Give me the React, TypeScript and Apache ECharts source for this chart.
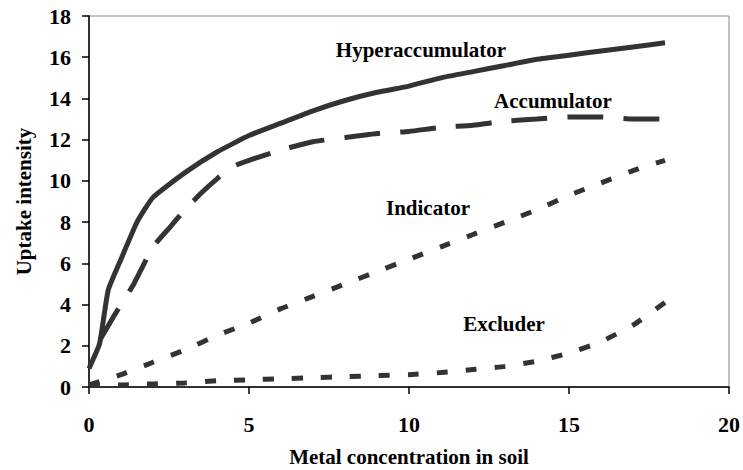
import React, { useEffect, useRef } from "react";
import * as echarts from "echarts";

const xTicks = [0, 5, 10, 15, 20];
const yTicks = [0, 2, 4, 6, 8, 10, 12, 14, 16, 18];

const hyperX = [0, 0.33, 0.6, 1, 1.5, 2, 3, 4, 5, 6, 7, 8, 9, 10, 11, 12, 13, 14, 15, 16, 17, 18];
const hyperY = [0.9, 2.1, 4.7, 6.2, 8.0, 9.2, 10.4, 11.4, 12.2, 12.8, 13.4, 13.9, 14.3, 14.6, 15.0, 15.3, 15.6, 15.9, 16.1, 16.3, 16.5, 16.7];

const accX = [0.35, 0.8, 1.4, 2, 2.5, 3, 3.5, 4, 4.5, 5, 6, 7, 8, 9, 10, 11, 12, 13, 14, 15, 16, 17, 18];
const accY = [2.3, 3.5, 5.0, 6.8, 7.7, 8.6, 9.4, 10.1, 10.7, 11.0, 11.5, 11.9, 12.1, 12.3, 12.4, 12.6, 12.7, 12.9, 13.0, 13.1, 13.1, 13.0, 13.0];

const indX = [0, 1, 2, 3, 4, 5, 6, 7, 8, 9, 10, 11, 12, 13, 14, 15, 16, 17, 18];
const indY = [0.1, 0.6, 1.2, 1.8, 2.5, 3.1, 3.8, 4.4, 5.0, 5.6, 6.2, 6.8, 7.4, 8.0, 8.6, 9.3, 9.9, 10.5, 11.0];

const excX = [0, 1, 2, 3, 4, 5, 6, 7, 8, 9, 10, 11, 12, 13, 14, 15, 16, 17, 18];
const excY = [0.1, 0.1, 0.15, 0.2, 0.3, 0.35, 0.4, 0.45, 0.5, 0.55, 0.6, 0.7, 0.85, 1.0, 1.25, 1.65, 2.2, 3.0, 4.1];

const labels = ["Hyperaccumulator", "Accumulator", "Indicator", "Excluder"];

const FONT = "'Liberation Serif', 'Times New Roman', serif";
const LINE = "#333333";

const pairs = (xs: number[], ys: number[]) => xs.map((x, i) => [x, ys[i]]);

export default function App() {
  const ref = useRef<HTMLDivElement>(null);
  useEffect(() => {
    if (!ref.current) return;
    const chart = echarts.init(ref.current, null, { renderer: "svg" });
    const textStyle = { fontFamily: FONT, fontWeight: "bold" as const, fontSize: 21, fill: "#000" };
    const mk = (name: string, xs: number[], ys: number[], type: any, width = 5) => ({
      name,
      type: "line",
      data: pairs(xs, ys),
      showSymbol: false,
      symbol: "none",
      smooth: 0.15,
      lineStyle: { color: LINE, width, type, cap: "butt" },
    });
    chart.setOption({
      animation: false,
      grid: {
        left: 89,
        right: 14,
        top: 16,
        bottom: 83,
        containLabel: false,
        outerBoundsMode: "none",
        show: true,
        borderColor: "#888",
        borderWidth: 1,
        backgroundColor: "transparent",
      },
      xAxis: {
        type: "value",
        min: 0,
        max: 20,
        interval: 5,
        name: "Metal concentration in soil",
        nameLocation: "middle",
        nameGap: 59,
        nameTextStyle: { fontFamily: FONT, fontWeight: "bold", fontSize: 21, color: "#000" },
        axisLine: { show: true, lineStyle: { color: "#000", width: 1.5 } },
        axisTick: { show: true, length: 7, lineStyle: { color: "#000", width: 1.5 } },
        axisLabel: {
          margin: 26,
          fontFamily: FONT,
          fontWeight: "bold",
          fontSize: 22,
          color: "#000",
          formatter: (v: number) => (xTicks.includes(v) ? String(v) : ""),
        },
        splitLine: { show: false },
      },
      yAxis: {
        type: "value",
        min: 0,
        max: 18,
        interval: 2,
        name: "Uptake intensity",
        nameLocation: "middle",
        nameGap: 55,
        nameTextStyle: { fontFamily: FONT, fontWeight: "bold", fontSize: 21, color: "#000" },
        axisLine: { show: true, lineStyle: { color: "#000", width: 1.5 } },
        axisTick: { show: true, length: 7, lineStyle: { color: "#000", width: 1.5 } },
        axisLabel: {
          margin: 18,
          fontFamily: FONT,
          fontWeight: "bold",
          fontSize: 22,
          color: "#000",
          formatter: (v: number) => (yTicks.includes(v) ? String(v) : ""),
        },
        splitLine: { show: false },
      },
      series: [
        mk(labels[0], hyperX, hyperY, "solid"),
        mk(labels[1], accX, accY, [36, 20]),
        mk(labels[2], indX, indY, [11, 18]),
        mk(labels[3], excX, excY, [11, 18]),
      ],
      graphic: [
        { type: "text", x: 421, y: 50, style: { ...textStyle, text: labels[0], align: "center", verticalAlign: "middle" } },
        { type: "text", x: 553, y: 101, style: { ...textStyle, text: labels[1], align: "center", verticalAlign: "middle" } },
        { type: "text", x: 428, y: 208, style: { ...textStyle, text: labels[2], align: "center", verticalAlign: "middle" } },
        { type: "text", x: 504, y: 324, style: { ...textStyle, text: labels[3], align: "center", verticalAlign: "middle" } },
      ],
    });
    return () => chart.dispose();
  }, []);
  return (
    <div
      ref={ref}
      style={{ position: "absolute", left: 0, top: 0, width: 743, height: 470, background: "#fff" }}
    />
  );
}
